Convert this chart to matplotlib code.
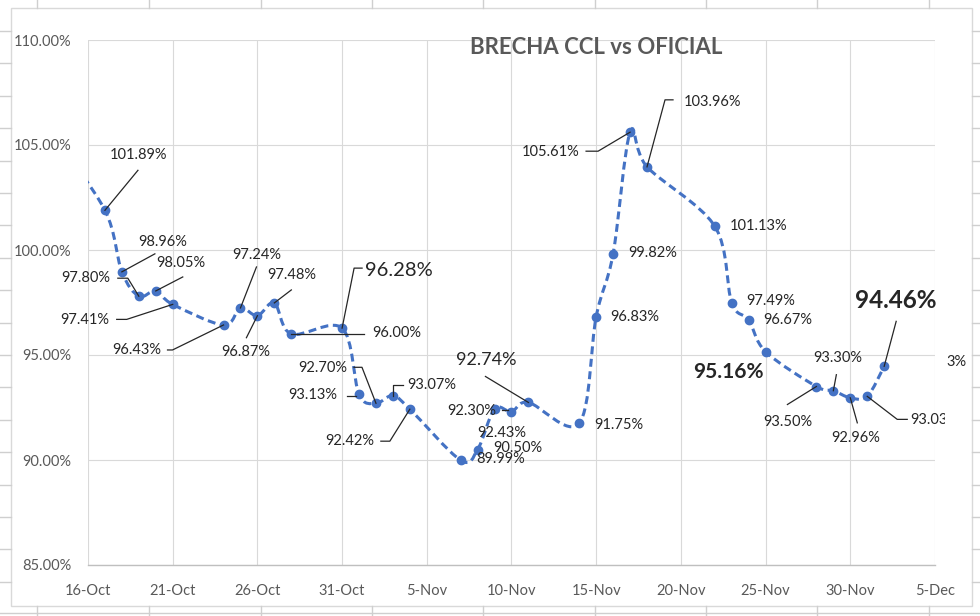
import numpy as np
import matplotlib
matplotlib.use('Agg')
import matplotlib.pyplot as plt
import matplotlib.dates as mdates
import matplotlib.transforms as mtransforms
from matplotlib.path import Path
from matplotlib.patches import PathPatch, Rectangle
from matplotlib.lines import Line2D
from datetime import date

# datos: brecha CCL vs oficial (%)
fechas = ['2022-10-14', '2022-10-17', '2022-10-18', '2022-10-19', '2022-10-20', '2022-10-21',
          '2022-10-24', '2022-10-25', '2022-10-26', '2022-10-27', '2022-10-28',
          '2022-10-31', '2022-11-01', '2022-11-02', '2022-11-03', '2022-11-04',
          '2022-11-07', '2022-11-08', '2022-11-09', '2022-11-10', '2022-11-11',
          '2022-11-14', '2022-11-15', '2022-11-16', '2022-11-17', '2022-11-18',
          '2022-11-22', '2022-11-23', '2022-11-24', '2022-11-25',
          '2022-11-28', '2022-11-29', '2022-11-30', '2022-12-01', '2022-12-02']
brecha = [105.40, 101.89, 98.96, 97.80, 98.05, 97.41,
          96.43, 97.24, 96.87, 97.48, 96.00,
          96.28, 93.13, 92.70, 93.07, 92.42,
          89.99, 90.50, 92.43, 92.30, 92.74,
          91.75, 96.83, 99.82, 105.61, 103.96,
          101.13, 97.49, 96.67, 95.16,
          93.50, 93.30, 92.96, 93.03, 94.46]
tick_fechas = ['2022-10-16', '2022-10-21', '2022-10-26', '2022-10-31', '2022-11-05', '2022-11-10',
               '2022-11-15', '2022-11-20', '2022-11-25', '2022-11-30', '2022-12-05']
tick_labels = ['16-Oct', '21-Oct', '26-Oct', '31-Oct', '5-Nov', '10-Nov',
               '15-Nov', '20-Nov', '25-Nov', '30-Nov', '5-Dec']
y_ticks = [85, 90, 95, 100, 105, 110]
titulo = 'BRECHA CCL vs OFICIAL'

# posicion de etiquetas (offset en px desde el punto, y hacia abajo), estilo, linea guia
etq = {
    1: ((34, -55), 'n', [(33, -40), (0, 0)]),
    2: ((41, -30), 'n', [(33, -18), (0, 0)]),
    3: ((-53, -18), 'n', [(-21, -18), (-11, -18), (0, 0)]),
    4: ((25, -28), 'n', [(27, -14), (0, 0)]),
    5: ((-88, 16), 'n', [(-56, 15), (-46, 15), (0, 0)]),
    6: ((-87, 25), 'n', [(-56, 25), (-51, 25), (0, 0)]),
    7: ((16, -53), 'n', [(16, -41), (0, 0)]),
    8: ((-12, 36), 'n', [(-11, 22), (0, 0)]),
    9: ((17, -28), 'n', [(17, -13), (0, 0)]),
    10: ((105, -1), 'n', [(73, 0), (0, 0)]),
    11: ((57, -58), 'g', [(20, -60), (12, -60), (0, 0)]),
    12: ((-46, 1), 'n', [(-12, 2), (-3, 2)]),
    13: ((-53, -35), 'n', [(-22, -36), (-14, -36), (0, 0)]),
    14: ((39, -11), 'n', [(10, -11), (0, -11), (0, 0)]),
    15: ((-60, 32), 'n', [(-29, 32), (-20, 32), (0, 0)]),
    16: ((40, -1), 'n', None),
    17: ((40, -2), 'n', None),
    18: ((7, 24), 'n', None),
    19: ((-40, -1), 'n', [(-9, -2), (-3, -2)]),
    20: ((-42, -42), 'm', [(-43, -26), (0, 0)]),
    21: ((40, 2), 'n', None),
    22: ((39, 0), 'n', None),
    23: ((40, -1), 'n', None),
    24: ((-79, 20), 'n', [(-44, 19), (-32, 19), (0, 0)]),
    25: ((65, -65), 'n', [(26, -67), (18, -67), (0, 0)]),
    26: ((44, 0), 'n', None),
    27: ((39, -2), 'n', None),
    28: ((39, 0), 'n', None),
    29: ((-37, 20), 'b', None),
    30: ((-29, 35), 'n', [(-29, 18), (0, 0)]),
    31: ((4, -33), 'n', [(3, -16), (0, 0)]),
    32: ((5, 40), 'n', [(7, 25), (0, 0)]),
    33: ((68, 24), 'n', [(0, 0), (30, 23), (40, 23)]),
    34: ((12, -66), 'B', [(12, -45), (0, 0)]),
}
estilos = {'n': (10.5, 'normal'), 'm': (13, 'normal'), 'g': (14.5, 'normal'),
           'b': (15, 'bold'), 'B': (17.5, 'bold')}

W, H = 980, 616
azul = '#4472C4'
gris = '#595959'
font_lbl = ['Lato', 'DejaVu Sans']

x = mdates.date2num([date.fromisoformat(f) for f in fechas])
y = np.array(brecha)

fig = plt.figure(figsize=(W / 100, H / 100), dpi=100)
ax = fig.add_axes([88 / W, 1 - 565 / H, (935 - 88) / W, (565 - 40) / H])

ax.set_xlim(mdates.date2num(date(2022, 10, 16)), mdates.date2num(date(2022, 12, 5)))
ax.set_ylim(85, 110)
ax.set_xticks(mdates.date2num([date.fromisoformat(f) for f in tick_fechas]))
ax.set_xticklabels(tick_labels)
ax.set_yticks(y_ticks)
ax.set_yticklabels(['%.2f%%' % v for v in y_ticks])
for lbl in ax.get_xticklabels() + ax.get_yticklabels():
    lbl.set_family(font_lbl)
    lbl.set_fontsize(10.5)
    lbl.set_color(gris)
ax.tick_params(length=0)
ax.tick_params(axis='x', pad=14)
ax.tick_params(axis='y', pad=12)
ax.grid(True, color='#d9d9d9', lw=0.8)
ax.set_axisbelow(True)
for s in ['top', 'right', 'left']:
    ax.spines[s].set_visible(False)
ax.spines['bottom'].set_color('#bfbfbf')
ax.spines['bottom'].set_linewidth(1.0)

# linea suavizada (bezier tipo catmull-rom, como Excel)
P = np.column_stack([x, y])
verts = [P[0]]
codes = [Path.MOVETO]
n = len(P)
for i in range(n - 1):
    p0 = P[i - 1] if i > 0 else P[i]
    p1 = P[i]
    p2 = P[i + 1]
    p3 = P[i + 2] if i + 2 < n else P[i + 1]
    verts += [p1 + (p2 - p0) / 6, p2 - (p3 - p1) / 6, p2]
    codes += [Path.CURVE4] * 3
ax.add_patch(PathPatch(Path(verts, codes), fill=False, edgecolor=azul, lw=2.2,
                       linestyle=(0, (2.6, 1.5)), capstyle='butt', zorder=3))
ax.plot(x, y, 'o', color=azul, ms=6, zorder=4)

# etiquetas de datos
for i, (off, est, guia) in etq.items():
    tr = mtransforms.Affine2D().scale(1, -1) + mtransforms.ScaledTranslation(x[i], y[i], ax.transData)
    size, weight = estilos[est]
    t = ax.text(off[0], off[1], '%.2f%%' % y[i], transform=tr, ha='center', va='center',
                fontsize=size, fontweight=weight, family=font_lbl, color='#262626',
                clip_on=False, zorder=6)
    if i == 33:
        t.set_clip_on(True)
        t.set_clip_box(mtransforms.TransformedBbox(
            mtransforms.Bbox([[0, 0], [945 / W, 1]]), fig.transFigure))
    if guia:
        gx, gy = zip(*guia)
        ax.add_line(Line2D(gx, gy, transform=tr, color='#262626', lw=0.9,
                           clip_on=False, zorder=5))

fig.text(956 / W, 1 - 362 / H, '3%', ha='center', va='center', fontsize=10.5,
         family=font_lbl, color='#262626')

fig.text(596 / W, 1 - 47 / H, titulo, ha='center', va='center', fontsize=16,
         fontweight='bold', family=font_lbl, color=gris)

# marco del grafico y grilla de la planilla detras
fig.add_artist(Rectangle((11 / W, 1 - 606 / H), (972 - 11) / W, (606 - 8) / H,
                         transform=fig.transFigure, fill=False, edgecolor='#d9d9d9', lw=1))
cg = '#cfcfcf'
for cx in [37, 149, 261, 372, 483, 595, 706, 817, 929]:
    fig.add_artist(Line2D([cx / W] * 2, [1, 1 - 8 / H], transform=fig.transFigure, color=cg, lw=1))
    fig.add_artist(Line2D([cx / W] * 2, [1 - 606 / H, 0], transform=fig.transFigure, color=cg, lw=1))
fig.add_artist(Line2D([0, 1], [1 - 613 / H] * 2, transform=fig.transFigure, color=cg, lw=1))
for ry in np.arange(31, 600, 32.4):
    fig.add_artist(Line2D([0, 11 / W], [1 - ry / H] * 2, transform=fig.transFigure, color=cg, lw=1))
    fig.add_artist(Line2D([972 / W, 1], [1 - ry / H] * 2, transform=fig.transFigure, color=cg, lw=1))

fig.savefig('out.png', dpi=100)
